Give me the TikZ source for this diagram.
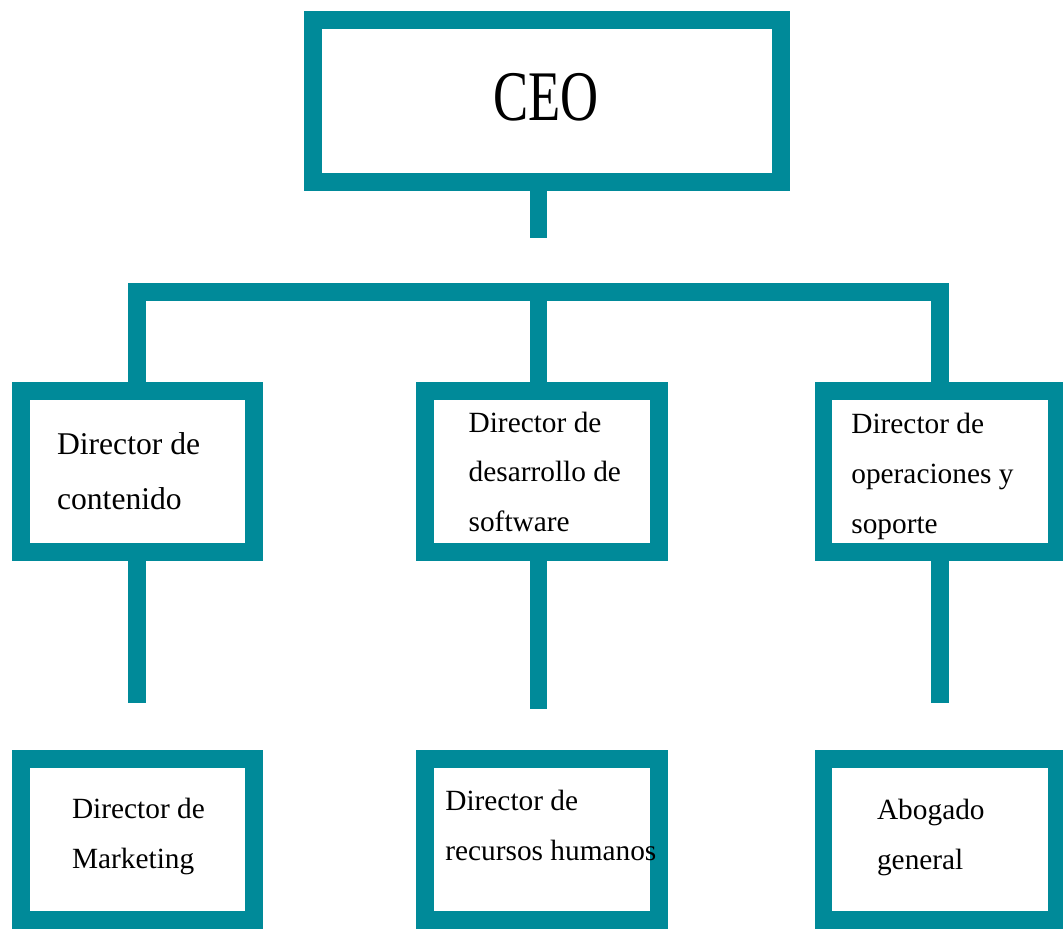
\documentclass[tikz,border=0pt]{standalone}
\usepackage{graphicx}
\usepackage{fontspec}
\setmainfont{Liberation Serif}
\usepackage{tikz}

\definecolor{orgteal}{RGB}{0,138,153}

\tikzset{
  orgbox/.style={draw=orgteal, line width=10.2pt, fill=white, inner sep=0pt,
    minimum width=4.67cm, minimum height=3.23cm},
  link/.style={draw=orgteal, line width=10.2pt},
  lbl/.style={anchor=base west, align=left, inner sep=0pt,
    font=\fontsize{16.7}{28.3}\selectfont},
}

\begin{document}
\begin{tikzpicture}[x=0.02cm, y=-0.02cm]
  \useasboundingbox (0,0) rectangle (1063,931);

  % boxes
  \node[orgbox, minimum width=9.36cm, minimum height=3.246cm] (ceo) at (546.7,100.8) {};
  \node[orgbox] (dcont) at (137.3,471.3) {};
  \node[orgbox] (dsoft) at (542,471.3) {};
  \node[orgbox] (dops)  at (940.2,471.3) {};
  \node[orgbox] (dmkt)  at (137.3,839.4) {};
  \node[orgbox] (drh)   at (542,839.4) {};
  \node[orgbox] (dabog) at (940.2,839.4) {};

  % connectors
  \coordinate (ceostub) at (538.5,237.7);
  \coordinate (bar)     at (538.5,291.7);
  \coordinate (stubL)   at (137.3,703.3);
  \coordinate (stubM)   at (538.5,709);
  \coordinate (stubR)   at (940.2,703.3);
  \draw[link] (ceostub |- ceo.south) -- (ceostub);
  \draw[link, line join=miter] (dcont.north) |- (bar) -| (dops.north);
  \draw[link] (bar) -- (bar |- dsoft.north);
  \draw[link] (dcont.south) -- (stubL);
  \draw[link] (stubM |- dsoft.south) -- (stubM);
  \draw[link] (dops.south) -- (stubR);

  % texts (base = baseline of the last line)
  \node[anchor=base, inner sep=0pt] (tceo) at (546.3,120)
    {\scalebox{0.74}[1]{\fontsize{40.5}{40.5}\selectfont CEO}};
  \node[lbl, font=\fontsize{18}{31.2}\selectfont] (tcont) at (56.7,509) {Director de\\contenido};
  \node[lbl] (tsoft)  at (468.3,531.7) {Director de\\desarrollo de\\software};
  \node[lbl] (tops)   at (851,533.3) {Director de\\operaciones y\\soporte};
  \node[lbl] (tmkt)   at (71.7,868.3) {Director de\\Marketing};
  \node[lbl] (trh)    at (445,860.7) {Director de\\recursos humanos};
  \node[lbl] (tabog)  at (876.7,869.3) {Abogado\\general};
\end{tikzpicture}
\end{document}
